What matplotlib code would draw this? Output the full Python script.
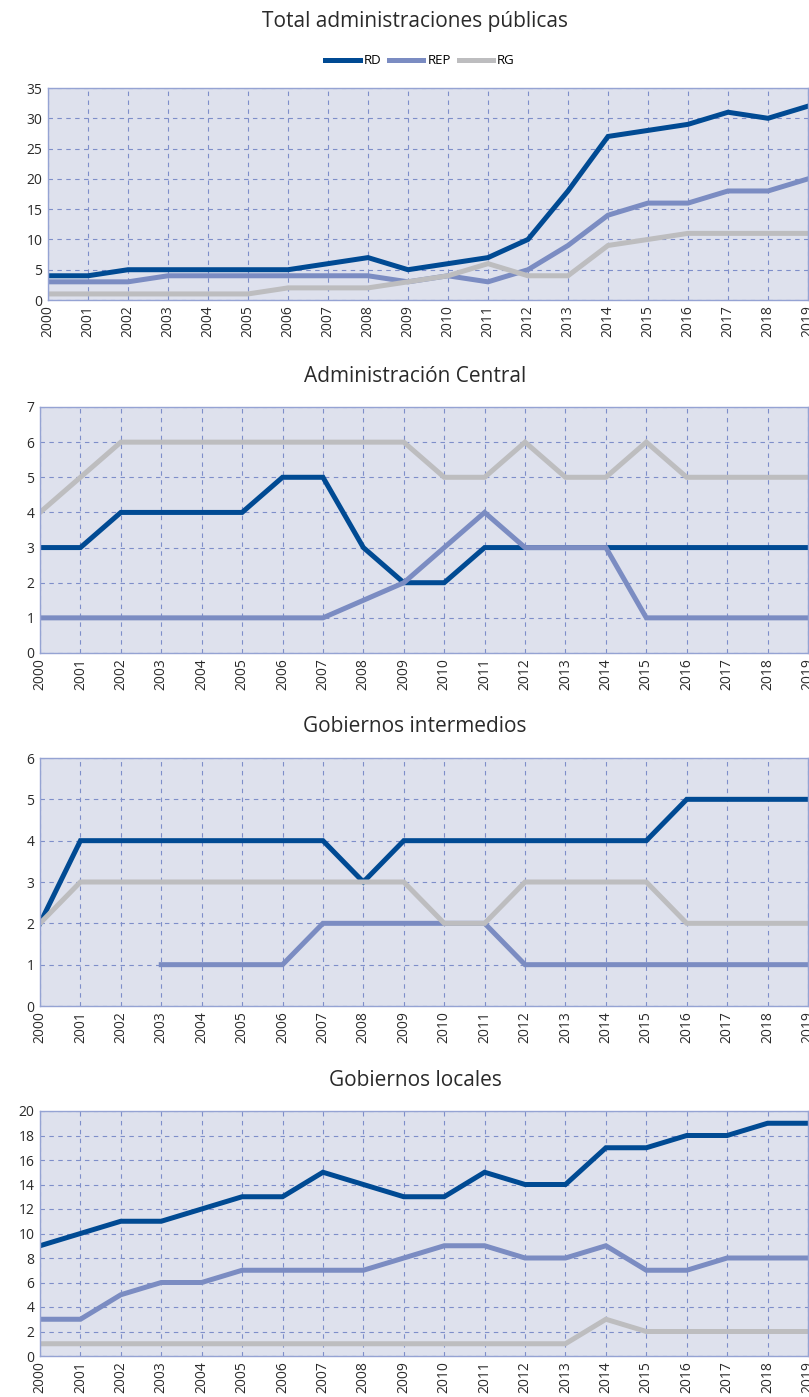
import matplotlib.pyplot as plt
import numpy as np

plt.rcParams['font.family'] = ['Open Sans', 'DejaVu Sans']

years = list(range(2000, 2020))
year_labels = [str(y) for y in years]
series_names = ["RD", "REP", "RG"]

panel_titles = [
    "Total administraciones públicas",
    "Administración Central",
    "Gobiernos intermedios",
    "Gobiernos locales",
]

# Total administraciones públicas
total_rd = [4, 4, 5, 5, 5, 5, 5, 6, 7, 5, 6, 7, 10, 18, 27, 28, 29, 31, 30, 32]
total_rep = [3, 3, 3, 4, 4, 4, 4, 4, 4, 3, 4, 3, 5, 9, 14, 16, 16, 18, 18, 20]
total_rg = [1, 1, 1, 1, 1, 1, 2, 2, 2, 3, 4, 6, 4, 4, 9, 10, 11, 11, 11, 11]

# Administración Central
central_rd = [3, 3, 4, 4, 4, 4, 5, 5, 3, 2, 2, 3, 3, 3, 3, 3, 3, 3, 3, 3]
central_rep = [1, 1, 1, 1, 1, 1, 1, 1, 1.5, 2, 3, 4, 3, 3, 3, 1, 1, 1, 1, 1]
central_rg = [4, 5, 6, 6, 6, 6, 6, 6, 6, 6, 5, 5, 6, 5, 5, 6, 5, 5, 5, 5]

# Gobiernos intermedios
inter_rd = [2, 4, 4, 4, 4, 4, 4, 4, 3, 4, 4, 4, 4, 4, 4, 4, 5, 5, 5, 5]
inter_rep = [None, None, None, 1, 1, 1, 1, 2, 2, 2, 2, 2, 1, 1, 1, 1, 1, 1, 1, 1]
inter_rg = [2, 3, 3, 3, 3, 3, 3, 3, 3, 3, 2, 2, 3, 3, 3, 3, 2, 2, 2, 2]

# Gobiernos locales
local_rd = [9, 10, 11, 11, 12, 13, 13, 15, 14, 13, 13, 15, 14, 14, 17, 17, 18, 18, 19, 19]
local_rep = [3, 3, 5, 6, 6, 7, 7, 7, 7, 8, 9, 9, 8, 8, 9, 7, 7, 8, 8, 8]
local_rg = [1, 1, 1, 1, 1, 1, 1, 1, 1, 1, 1, 1, 1, 1, 3, 2, 2, 2, 2, 2]

panels = [
    (total_rd, total_rep, total_rg),
    (central_rd, central_rep, central_rg),
    (inter_rd, inter_rep, inter_rg),
    (local_rd, local_rep, local_rg),
]
y_max = [35, 7, 6, 20]
y_step = [5, 1, 1, 2]

colors = ["#004a93", "#7b8cc2", "#bdbdbf"]
bg = "#dee1ed"
grid_col = "#7e8ec9"
spine_col = "#95a3d3"
text_col = "#2a2a2a"

W, H = 809, 1397
fig = plt.figure(figsize=(W / 100, H / 100), dpi=100)

# axes boxes in pixels: left, top, right, bottom
boxes = [(48, 88, 808, 300), (40, 407, 808, 653), (40, 758, 808, 1006), (40, 1111, 808, 1356)]
title_y = [22, 376, 726, 1081]

handles = None
for i, (data, box) in enumerate(zip(panels, boxes)):
    l, t, r, b = box
    ax = fig.add_axes([l / W, 1 - b / H, (r - l) / W, (b - t) / H])
    ax.set_facecolor(bg)
    x = np.arange(len(years))
    lines = []
    for vals, c, name in zip(data, colors, series_names):
        v = np.array([np.nan if s is None else s for s in vals], dtype=float)
        ln, = ax.plot(x, v, color=c, lw=3.6, label=name, solid_joinstyle="miter")
        lines.append(ln)
    if handles is None:
        handles = lines
    ax.set_xlim(0, len(years) - 1)
    ax.set_ylim(0, y_max[i])
    ax.set_yticks(np.arange(0, y_max[i] + 0.01, y_step[i]))
    ax.set_xticks(x)
    ax.set_xticklabels(year_labels, rotation=90, fontsize=10)
    ax.tick_params(axis="y", labelsize=10)
    ax.tick_params(length=0, pad=4, colors=text_col)
    ax.grid(True, linestyle=(0, (4, 4)), color=grid_col, lw=0.8)
    ax.set_axisbelow(True)
    for s in ax.spines.values():
        s.set_color(spine_col)
        s.set_linewidth(1.0)
    fig.text(415 / W, 1 - title_y[i] / H, panel_titles[i], ha="center", va="center",
             fontsize=15, color=text_col)

fig.legend(handles, series_names, loc="center", bbox_to_anchor=(420 / W, 1 - 61 / H),
           ncol=3, frameon=False, fontsize=9.5, handlelength=2.6, columnspacing=0.6,
           handletextpad=0.3)

fig.savefig("out.png", dpi=100)
